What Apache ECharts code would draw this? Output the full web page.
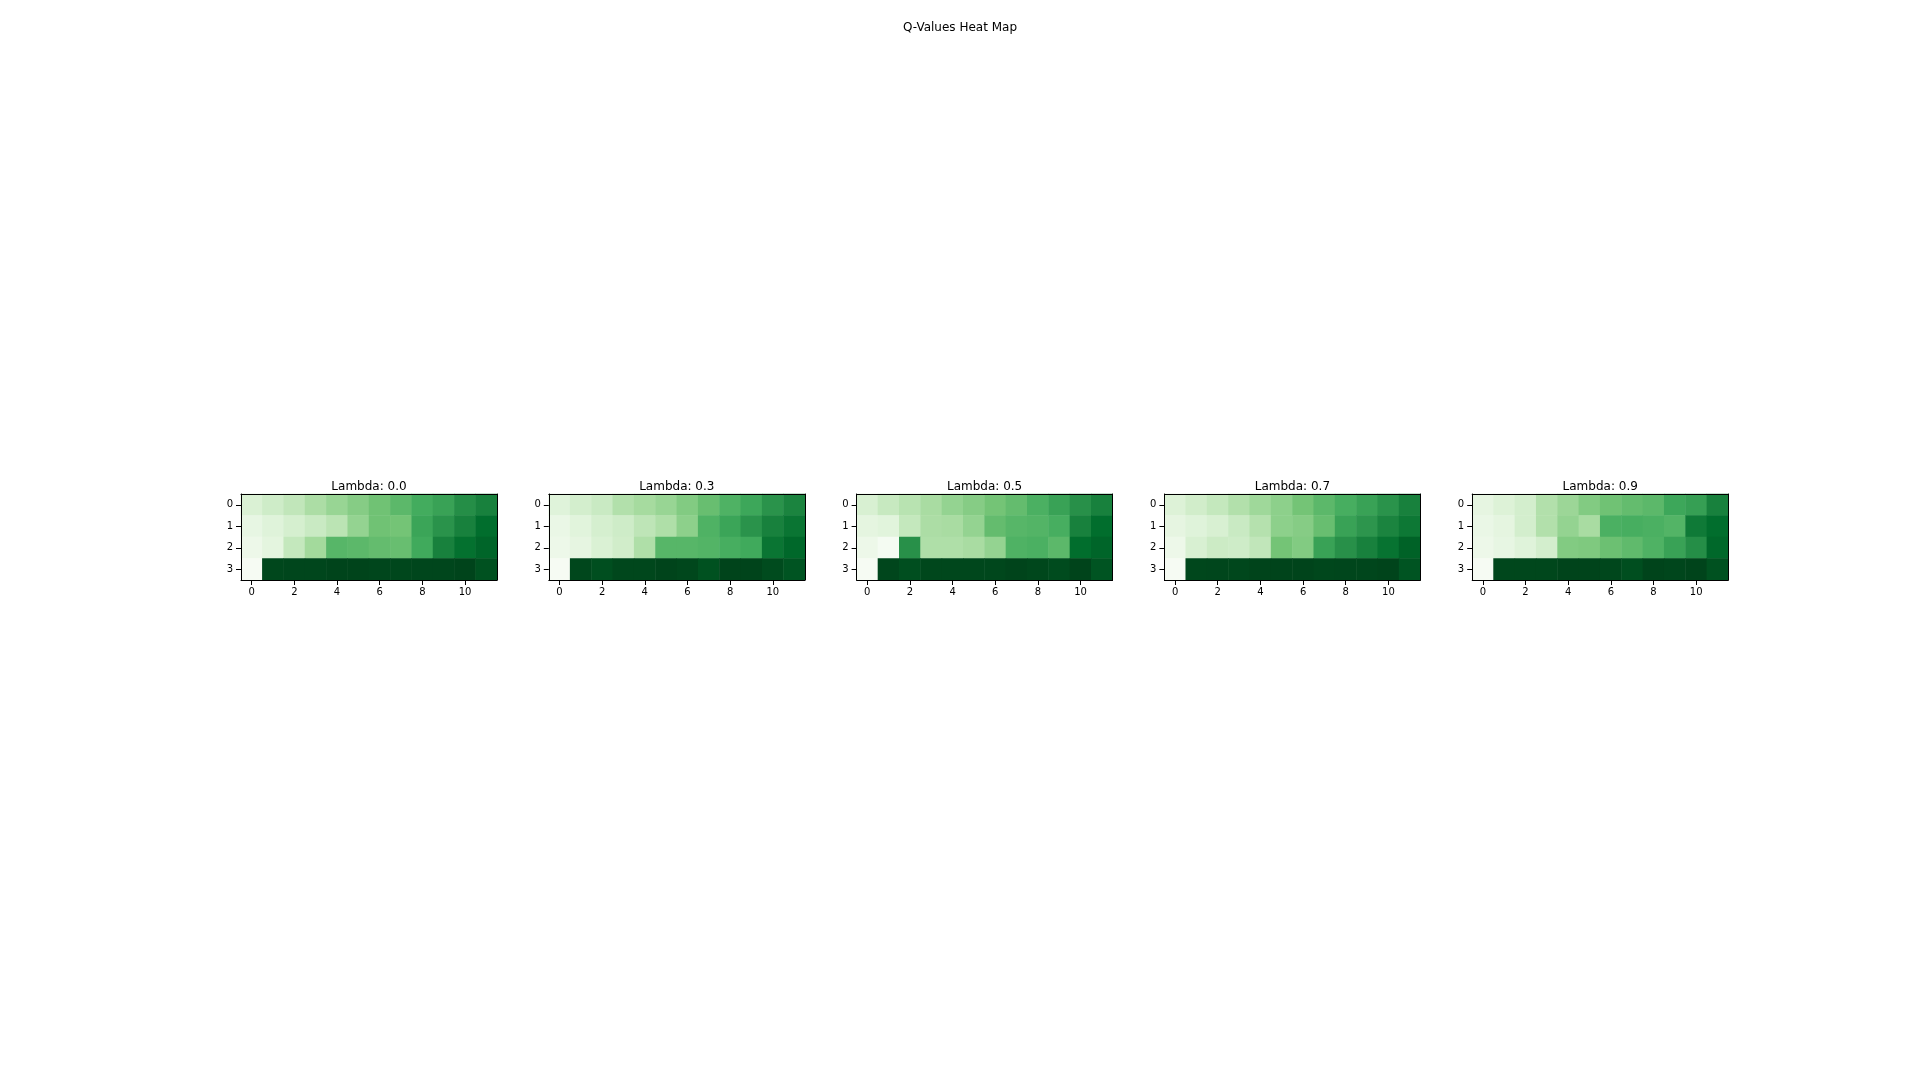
<!DOCTYPE html>
<html>
<head>
<meta charset="utf-8">
<script src="https://cdn.jsdelivr.net/npm/echarts@6/dist/echarts.min.js"></script>
<style>
html,body{margin:0;padding:0;background:#fff;}
#chart{width:1920px;height:1080px;}
</style>
</head>
<body>
<div id="chart"></div>
<script>
// Column / row categories
var columns = ['0','1','2','3','4','5','6','7','8','9','10','11'];
var rows = ['0','1','2','3'];
var lambdas = ['0.0','0.3','0.5','0.7','0.9'];

// Relative Q-value intensity per cell (row-major, 4 rows x 12 columns), per lambda
var qLambda00 = [
  [0.17,0.22,0.27,0.34,0.40,0.45,0.51,0.56,0.62,0.66,0.74,0.79],
  [0.11,0.15,0.19,0.24,0.29,0.41,0.51,0.50,0.65,0.72,0.79,0.87],
  [0.07,0.13,0.26,0.37,0.57,0.56,0.54,0.53,0.63,0.79,0.86,0.90],
  [0.01,0.99,0.995,0.995,1.00,1.00,0.995,0.99,0.995,0.995,1.00,0.96]
];
var qLambda03 = [
  [0.15,0.20,0.24,0.32,0.36,0.40,0.46,0.53,0.59,0.64,0.72,0.78],
  [0.09,0.14,0.19,0.22,0.28,0.33,0.43,0.59,0.65,0.72,0.79,0.84],
  [0.07,0.12,0.17,0.21,0.33,0.57,0.57,0.58,0.61,0.63,0.84,0.89],
  [0.01,0.99,0.97,0.99,0.99,1.00,0.99,0.96,1.00,1.00,0.98,0.95]
];
var qLambda05 = [
  [0.18,0.25,0.30,0.35,0.41,0.45,0.50,0.54,0.60,0.66,0.73,0.79],
  [0.125,0.14,0.26,0.34,0.35,0.41,0.54,0.57,0.58,0.61,0.79,0.87],
  [0.07,0.02,0.73,0.33,0.33,0.35,0.41,0.59,0.60,0.56,0.87,0.90],
  [0.01,0.995,0.97,0.99,0.99,0.99,0.99,1.00,0.99,0.98,1.00,0.95]
];
var qLambda07 = [
  [0.16,0.21,0.26,0.32,0.38,0.43,0.50,0.56,0.61,0.66,0.72,0.79],
  [0.12,0.15,0.18,0.24,0.31,0.43,0.45,0.53,0.66,0.71,0.78,0.83],
  [0.07,0.18,0.23,0.22,0.27,0.50,0.46,0.66,0.73,0.79,0.85,0.91],
  [0.01,0.99,0.995,0.99,1.00,1.00,1.00,0.99,0.995,0.995,1.00,0.95]
];
var qLambda09 = [
  [0.12,0.16,0.20,0.32,0.39,0.46,0.51,0.54,0.56,0.64,0.67,0.79],
  [0.09,0.125,0.20,0.32,0.41,0.35,0.60,0.61,0.60,0.58,0.82,0.87],
  [0.07,0.11,0.15,0.20,0.46,0.47,0.52,0.55,0.59,0.66,0.74,0.89],
  [0.01,0.99,0.99,0.99,1.00,1.00,0.99,0.97,1.00,0.995,1.00,0.96]
];
var panels = [qLambda00, qLambda03, qLambda05, qLambda07, qLambda09];

var greens = ['#f7fcf5','#e5f5e0','#c7e9c0','#a1d99b','#74c476','#41ab5d','#238b45','#006d2c','#00441b'];

var chart = echarts.init(document.getElementById('chart'), null, {renderer:'canvas'});

var grids = [], xAxes = [], yAxes = [], series = [], visualMaps = [];
var titles = [{
  text: 'Q-Values Heat Map', left: 'center', top: 22, padding: 0,
  textStyle: {fontFamily: 'DejaVu Sans', fontSize: 12, fontWeight: 'normal', color: '#000'}
}];
var gLeft = 241, gStep = 307.8, gW = 256, gTop = 494, gH = 86;
var labelStyle = {fontFamily: 'DejaVu Sans', fontSize: 10, color: '#000'};

panels.forEach(function (mat, i) {
  var left = gLeft + gStep * i;
  grids.push({left: left, top: gTop, width: gW, height: gH, containLabel: false});
  titles.push({
    text: 'Lambda: ' + lambdas[i], left: left + gW / 2, top: 481, textAlign: 'center', padding: 0,
    textStyle: {fontFamily: 'DejaVu Sans', fontSize: 12, fontWeight: 'normal', color: '#000'}
  });
  // bottom x axis
  xAxes.push({
    type: 'category', gridIndex: i, data: columns, position: 'bottom', z: 5,
    axisLine: {show: true, lineStyle: {color: '#000', width: 1}},
    axisTick: {show: true, alignWithLabel: true, length: 5, lineStyle: {color: '#000'},
      interval: function (idx) { return idx % 2 === 0; }},
    axisLabel: Object.assign({interval: function (idx) { return idx % 2 === 0; }, margin: 7}, labelStyle),
    splitLine: {show: false}
  });
  // top frame
  xAxes.push({
    type: 'category', gridIndex: i, data: columns, position: 'top', z: 5,
    axisLine: {show: true, onZero: false, lineStyle: {color: '#000', width: 1}},
    axisTick: {show: false}, axisLabel: {show: false}, splitLine: {show: false}
  });
  // left y axis
  yAxes.push({
    type: 'category', gridIndex: i, data: rows, inverse: true, position: 'left', z: 5,
    axisLine: {show: true, lineStyle: {color: '#000', width: 1}},
    axisTick: {show: true, alignWithLabel: true, length: 5, lineStyle: {color: '#000'}},
    axisLabel: Object.assign({margin: 8}, labelStyle),
    splitLine: {show: false}
  });
  // right frame
  yAxes.push({
    type: 'category', gridIndex: i, data: rows, inverse: true, position: 'right', z: 5,
    axisLine: {show: true, onZero: false, lineStyle: {color: '#000', width: 1}},
    axisTick: {show: false}, axisLabel: {show: false}, splitLine: {show: false}
  });
  var data = [];
  mat.forEach(function (row, r) {
    row.forEach(function (v, c) { data.push([c, r, v]); });
  });
  series.push({
    type: 'heatmap', xAxisIndex: 2 * i, yAxisIndex: 2 * i, data: data,
    itemStyle: {borderWidth: 0}, emphasis: {disabled: true}, silent: true, progressive: 0
  });
  visualMaps.push({
    show: false, seriesIndex: i, min: 0, max: 1, dimension: 2,
    inRange: {color: greens}
  });
});

chart.setOption({
  animation: false,
  backgroundColor: '#fff',
  title: titles,
  grid: grids,
  xAxis: xAxes,
  yAxis: yAxes,
  visualMap: visualMaps,
  series: series
});
</script>
</body>
</html>
